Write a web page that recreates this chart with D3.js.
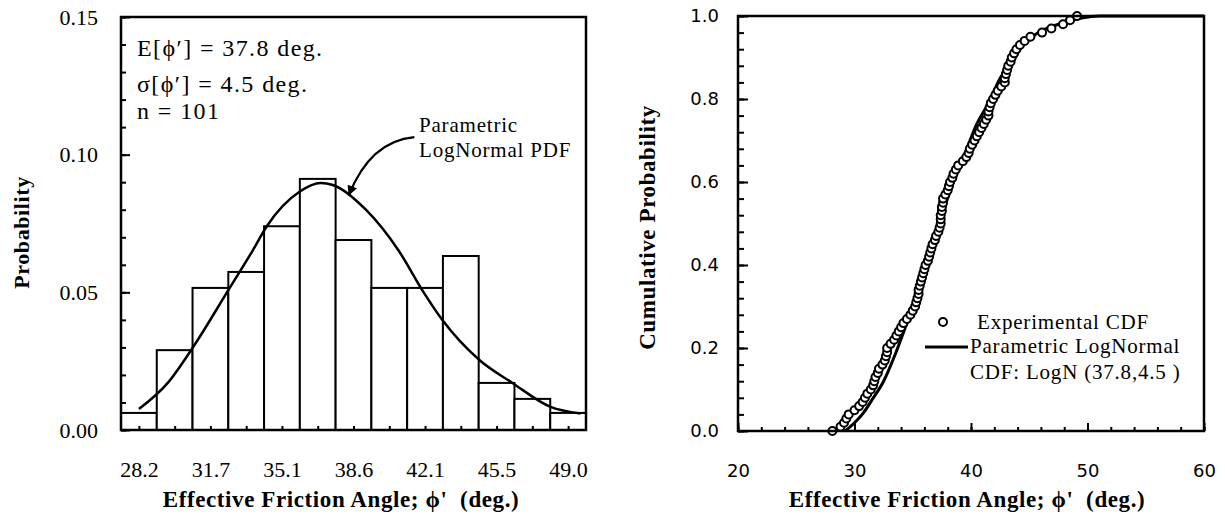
<!DOCTYPE html>
<html>
<head>
<meta charset="utf-8">
<script src="https://cdn.jsdelivr.net/npm/d3@7"></script>
<style>
body { margin: 0; background: #fff; }
svg text { font-family: "Liberation Serif", "DejaVu Serif", serif; fill: #000; white-space: pre; }
</style>
</head>
<body>
<svg id="chart" width="1225" height="530"></svg>
<script>
"use strict";
// ---- left panel: histogram + parametric pdf ----
var binCenters = [28.2, 29.9, 31.7, 33.4, 35.1, 36.9, 38.6, 40.3, 42.1, 43.8, 45.5, 47.2, 49.0];
var binProb = [0.0062, 0.029, 0.0516, 0.0574, 0.074, 0.0912, 0.069, 0.0516, 0.0516, 0.0632, 0.0171, 0.0113, 0.0062];
var histTickLabels = ["28.2", "31.7", "35.1", "38.6", "42.1", "45.5", "49.0"];
var pdfX = [28.2, 29.6, 30.8, 32.6, 33.7, 34.4, 36.0, 37.0, 37.6, 39.2, 40.8, 42.0, 42.9, 44.7, 46.3, 48.15, 49.6];
var pdfY = [0.0076, 0.0171, 0.0298, 0.0516, 0.065, 0.074, 0.0866, 0.0897, 0.089, 0.080, 0.065, 0.050, 0.040, 0.0254, 0.0171, 0.0084, 0.006];
var probTicks = [0.00, 0.05, 0.10, 0.15];

// ---- right panel: experimental + parametric cdf ----
var sampleAngles = [
  28.1, 28.8, 29.1, 29.3, 29.5, 30.0, 30.4, 30.7, 30.9, 31.1,
  31.4, 31.6, 31.7, 31.8, 32.0, 32.1, 32.4, 32.6, 32.7, 32.8,
  32.8, 33.1, 33.4, 33.6, 33.8, 34.0, 34.2, 34.5, 34.8, 35.0,
  35.2, 35.3, 35.4, 35.5, 35.5, 35.6, 35.7, 35.8, 35.9, 36.0,
  36.1, 36.3, 36.4, 36.5, 36.6, 36.7, 36.9, 37.0, 37.2, 37.3,
  37.4, 37.4, 37.4, 37.5, 37.5, 37.6, 37.6, 37.8, 38.0, 38.1,
  38.2, 38.4, 38.5, 38.7, 38.9, 39.3, 39.6, 39.8, 39.9, 40.1,
  40.3, 40.5, 40.7, 40.9, 41.1, 41.3, 41.5, 41.5, 41.6, 41.7,
  41.9, 42.1, 42.3, 42.6, 42.9, 42.9, 43.0, 43.1, 43.2, 43.4,
  43.5, 43.7, 43.9, 44.2, 44.6, 45.1, 46.1, 46.9, 47.9, 48.5,
  49.1
];
var cdfLineX = [29.2, 30.0, 30.8, 31.5, 32.5, 33.5, 34.5, 35.5, 36.5, 37.5, 38.5, 39.5, 40.5, 41.5, 42.5, 43.5, 44.5, 45.5, 46.5, 47.5, 48.5, 49.5, 51, 60];
var cdfLineY = [0, 0.02, 0.045, 0.075, 0.12, 0.185, 0.26, 0.34, 0.43, 0.52, 0.60, 0.67, 0.74, 0.79, 0.85, 0.89, 0.93, 0.955, 0.97, 0.98, 0.988, 0.995, 1.0, 1.0];
var angleTicks = [20, 30, 40, 50, 60];
var cumTicks = [0.0, 0.2, 0.4, 0.6, 0.8, 1.0];

var svg = d3.select("#chart");

// arrow head for the pdf annotation
svg.append("defs").append("marker")
  .attr("id", "head")
  .attr("viewBox", "0 0 10 10")
  .attr("refX", 9).attr("refY", 5)
  .attr("markerWidth", 13).attr("markerHeight", 10)
  .attr("markerUnits", "userSpaceOnUse")
  .attr("orient", "auto")
  .append("path").attr("d", "M0,0 L10,5 L0,10 Z").attr("fill", "#000");

function inwardTicks(g, axis) {
  g.call(axis);
  g.select(".domain").remove();
  g.selectAll(".tick line").attr("stroke", "#000").attr("stroke-width", 2);
  g.selectAll(".tick text").remove();
}

function tickLabels(g, axis, font, size) {
  g.call(axis);
  g.select(".domain").remove();
  g.selectAll(".tick line").remove();
  g.selectAll(".tick text")
    .style("font-family", font)
    .style("font-size", size);
}

function boldTitle(sel) {
  sel.attr("text-anchor", "middle")
    .style("font-size", "23px").style("font-weight", "bold")
    .style("letter-spacing", "0.6px");
}

/* ---------- left panel ---------- */
var L = { left: 121, right: 586, top: 17, bottom: 430 };
var binW = (binCenters[binCenters.length - 1] - binCenters[0]) / (binCenters.length - 1);
var xl = d3.scaleLinear()
  .domain([binCenters[0] - binW / 2, binCenters[binCenters.length - 1] + binW / 2])
  .range([L.left, L.right]);
var xb = d3.scaleBand().domain(binCenters).range([L.left, L.right]).padding(0);
var yl = d3.scaleLinear().domain([0, 0.15]).range([L.bottom, L.top]);

var left = svg.append("g");

left.selectAll("rect.bar")
  .data(binProb)
  .join("rect")
  .attr("class", "bar")
  .attr("x", function (d, i) { return xb(binCenters[i]); })
  .attr("width", xb.bandwidth())
  .attr("y", function (d) { return yl(d); })
  .attr("height", function (d) { return yl(0) - yl(d); })
  .attr("fill", "#fff")
  .attr("stroke", "#000")
  .attr("stroke-width", 2);

var pdfLine = d3.line()
  .x(function (d) { return xl(d[0]); })
  .y(function (d) { return yl(d[1]); })
  .curve(d3.curveMonotoneX);
left.append("path")
  .datum(d3.zip(pdfX, pdfY))
  .attr("d", pdfLine)
  .attr("fill", "none")
  .attr("stroke", "#000")
  .attr("stroke-width", 2.5);

// ticks (all drawn pointing into the plot)
left.append("g").attr("transform", "translate(" + L.left + ",0)")
  .call(inwardTicks, d3.axisRight(yl).tickValues(d3.range(16).map(function (i) { return i / 100; })).tickSize(5));
left.append("g").attr("transform", "translate(" + L.left + ",0)")
  .call(inwardTicks, d3.axisRight(yl).tickValues(probTicks).tickSize(9));
left.append("g").attr("transform", "translate(0," + L.bottom + ")")
  .call(inwardTicks, d3.axisTop(xl).tickValues(binCenters.map(function (c, i) { return binCenters[0] + i * binW; })).tickSize(4));

left.append("g").attr("transform", "translate(" + (L.left - 20) + ",0)")
  .call(tickLabels, d3.axisLeft(yl).tickValues(probTicks).tickFormat(d3.format(".2f")).tickSize(0), "Liberation Serif", "22px");
left.append("g").attr("transform", "translate(0," + (L.bottom + 28) + ")")
  .call(tickLabels, d3.axisBottom(xl)
    .tickValues(histTickLabels.map(function (t, i) { return binCenters[0] + 2 * i * binW; }))
    .tickFormat(function (d, i) { return histTickLabels[i]; })
    .tickSize(0), "Liberation Serif", "22px");

left.append("rect")
  .attr("x", L.left).attr("y", L.top)
  .attr("width", L.right - L.left).attr("height", L.bottom - L.top)
  .attr("fill", "none").attr("stroke", "#000").attr("stroke-width", 2.5);

// statistics block
var stats = left.append("g").style("font-size", "24px").style("letter-spacing", "1.4px");
stats.append("text").attr("x", 137).attr("y", 56).text("E[\u03D5\u2032] = 37.8 deg.");
stats.append("text").attr("x", 137).attr("y", 92).text("\u03C3[\u03D5\u2032] = 4.5 deg.");
stats.append("text").attr("x", 137).attr("y", 119).text("n = 101");

// pdf annotation
var note = left.append("g").style("font-size", "21px").style("letter-spacing", "0.8px");
note.append("text").attr("x", 419).attr("y", 132).text("Parametric");
note.append("text").attr("x", 419).attr("y", 157).text("LogNormal PDF");
var a0 = [xl(41.55), yl(0.1064)], a1 = [xl(38.38), yl(0.0854)];
left.append("path")
  .attr("d", "M" + a0[0] + "," + a0[1] + " Q" + (a0[0] - 44) + "," + (a0[1] + 4) + " " + a1[0] + "," + a1[1])
  .attr("fill", "none").attr("stroke", "#000").attr("stroke-width", 2.2)
  .attr("marker-end", "url(#head)");

left.append("text")
  .attr("transform", "translate(29," + ((L.top + L.bottom) / 2 + 9) + ") rotate(-90)")
  .call(boldTitle)
  .style("font-size", "22px")
  .text("Probability");
left.append("text")
  .attr("x", 341).attr("y", 507)
  .call(boldTitle)
  .text("Effective Friction Angle; \u03D5'  (deg.)");

/* ---------- right panel ---------- */
var R = { left: 738, right: 1204, top: 16, bottom: 431 };
var xr = d3.scaleLinear().domain([20, 60]).range([R.left, R.right]);
var yr = d3.scaleLinear().domain([0, 1]).range([R.bottom, R.top]);
var right = svg.append("g");

right.append("g").attr("transform", "translate(" + R.left + ",0)")
  .call(inwardTicks, d3.axisRight(yr).tickValues(d3.range(26).map(function (i) { return i * 0.04; })).tickSize(6));
right.append("g").attr("transform", "translate(" + R.left + ",0)")
  .call(inwardTicks, d3.axisRight(yr).tickValues(cumTicks).tickSize(10));
right.append("g").attr("transform", "translate(0," + R.bottom + ")")
  .call(inwardTicks, d3.axisTop(xr).tickValues(d3.range(20, 61, 2)).tickSize(4));
right.append("g").attr("transform", "translate(0," + R.bottom + ")")
  .call(inwardTicks, d3.axisTop(xr).tickValues(angleTicks).tickSize(8));

right.append("g").attr("transform", "translate(" + (R.left - 16) + ",0)")
  .call(tickLabels, d3.axisLeft(yr).tickValues(cumTicks).tickFormat(d3.format(".1f")).tickSize(0), "DejaVu Sans", "18px");
right.append("g").attr("transform", "translate(0," + (R.bottom + 30) + ")")
  .call(tickLabels, d3.axisBottom(xr).tickValues(angleTicks).tickFormat(d3.format("d")).tickSize(0), "DejaVu Sans", "18px");

var cdfLine = d3.line()
  .x(function (d) { return xr(d[0]); })
  .y(function (d) { return yr(d[1]); })
  .curve(d3.curveMonotoneX);
right.append("path")
  .datum(d3.zip(cdfLineX, cdfLineY))
  .attr("d", cdfLine)
  .attr("fill", "none").attr("stroke", "#000").attr("stroke-width", 3);

var n = sampleAngles.length;
right.selectAll("circle.obs")
  .data(sampleAngles)
  .join("circle")
  .attr("class", "obs")
  .attr("cx", function (d) { return xr(d); })
  .attr("cy", function (d, i) { return yr(i / (n - 1)); })
  .attr("r", 4)
  .attr("fill", "#fff").attr("stroke", "#000").attr("stroke-width", 2);

right.append("rect")
  .attr("x", R.left).attr("y", R.top)
  .attr("width", R.right - R.left).attr("height", R.bottom - R.top)
  .attr("fill", "none").attr("stroke", "#000").attr("stroke-width", 2.5);

// legend
var lg = right.append("g").style("font-size", "21px").style("letter-spacing", "0.8px");
lg.append("circle").attr("cx", 943).attr("cy", 322).attr("r", 4)
  .attr("fill", "#fff").attr("stroke", "#000").attr("stroke-width", 2);
lg.append("text").attr("x", 977).attr("y", 329).text("Experimental CDF");
lg.append("line").attr("x1", 925).attr("x2", 968).attr("y1", 347).attr("y2", 347)
  .attr("stroke", "#000").attr("stroke-width", 3);
lg.append("text").attr("x", 970).attr("y", 353).text("Parametric LogNormal");
lg.append("text").attr("x", 970).attr("y", 379).text("CDF: LogN (37.8,4.5 )");

right.append("text")
  .attr("transform", "translate(655," + ((R.top + R.bottom) / 2 + 4) + ") rotate(-90)")
  .call(boldTitle)
  .text("Cumulative Probability");
right.append("text")
  .attr("x", 967).attr("y", 507)
  .call(boldTitle)
  .text("Effective Friction Angle; \u03D5'  (deg.)");
</script>
</body>
</html>
